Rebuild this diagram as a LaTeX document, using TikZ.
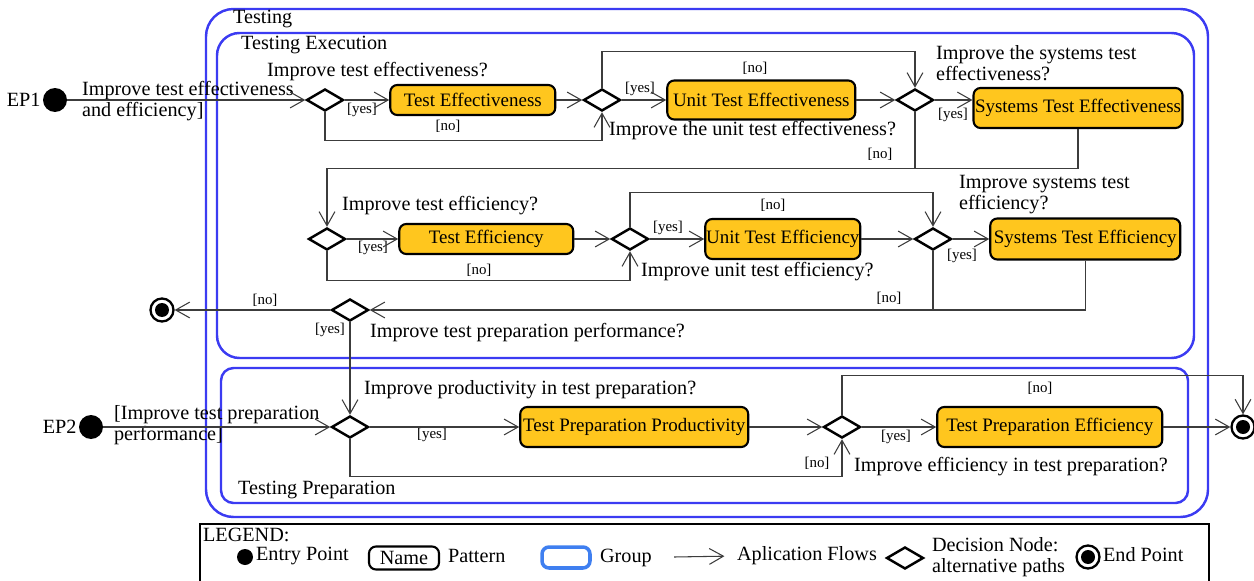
\documentclass[tikz,border=0pt]{standalone}
\usepackage{fontspec}
\setmainfont{Liberation Serif}
\usepackage{xcolor}
\usepackage{tikz}
\usetikzlibrary{positioning, arrows.meta, shapes.geometric}
\definecolor{grpblue}{HTML}{3B3BF2}
\definecolor{legblue}{HTML}{3F7FF0}
\definecolor{patgold}{HTML}{FFC61E}
\definecolor{flowgray}{HTML}{3C3C3C}

\begin{document}
\begin{tikzpicture}[
  x=0.02cm, y=-0.02cm,
  txt/.style={inner sep=1pt, font=\fontsize{11.5}{12}\selectfont, align=left},
  lbl/.style={inner sep=0pt, font=\fontsize{8.5}{9}\selectfont},
  patbox/.style={
    rectangle, rounded corners=4pt, draw=black, line width=1.2pt, fill=patgold,
    minimum height=0.8cm, inner sep=0.5pt,
    font=\fontsize{10.8}{12}\selectfont, align=center
  },
  decision/.style={
    diamond, draw=black, line width=1.4pt, fill=white,
    minimum width=0.74cm, minimum height=0.44cm, inner sep=0pt
  },
  entry/.style={circle, fill=black, minimum size=0.48cm, inner sep=0pt},
  endpt/.style={
    circle, draw=black, line width=1.3pt, fill=white,
    minimum size=0.46cm, inner sep=0pt,
    path picture={\fill[black] (path picture bounding box.center) circle (0.14cm);}
  },
  grp/.style={draw=grpblue, line width=1.4pt},
  arr/.style={-{Straight Barb[length=8pt,width=9pt]}, line width=0.6pt, color=flowgray},
  flow/.style={line width=0.6pt, color=flowgray},
]
\useasboundingbox (0,0) rectangle (1254,581);

% Groups
\draw[grp, rounded corners=0.55cm] (206,9) rectangle (1208,517);
\draw[grp, rounded corners=0.45cm] (217,33) rectangle (1194,358);
\draw[grp, rounded corners=0.25cm] (221,368) rectangle (1188,503);
\node[txt, anchor=west] (gtest) at (231,19) {Testing};
\node[txt, anchor=west] (gexec) at (239,45) {Testing Execution};
\node[txt, anchor=west] (gprep) at (236,490) {Testing Preparation};

% Testing execution: effectiveness
\node[entry] (ep1) at (55,100) {};
\node[txt, left=0pt of ep1] (ep1t) {EP1};
\node[txt, anchor=west] (ep1q) at (80,101) {Improve test effectiveness\\and efficiency]};
\node[decision] (d1) at (325,100) {};
\node[txt, anchor=west] (q1) at (265,72) {Improve test effectiveness?};
\node[patbox, right=0.89cm of d1, minimum width=3.3cm, minimum height=0.6cm] (teff) {Test Effectiveness};
\node[decision] (d2) at (602,100) {};
\node[patbox, right=0.89cm of d2, minimum width=3.76cm, minimum height=0.78cm] (uteff) {Unit Test Effectiveness};
\node[txt, anchor=west] (q2) at (607,131) {Improve the unit test effectiveness?};
\node[decision] (d3) at (915,100) {};
\node[txt, anchor=west] (q3) at (934,63) {Improve the systems test\\effectiveness?};
\node[patbox, minimum width=4.18cm, minimum height=0.8cm] (steff) at (1078,108) {Systems Test Effectiveness};

% Testing execution: efficiency
\node[decision] (d4) at (327,239) {};
\node[txt, anchor=west] (q4) at (340,206) {Improve test efficiency?};
\node[patbox, right=1.03cm of d4, minimum width=3.48cm, minimum height=0.6cm] (teffi) {Test Efficiency};
\node[decision] (d5) at (630,239) {};
\node[patbox, right=1.09cm of d5, minimum width=3.1cm, minimum height=0.8cm] (uteffi) {Unit Test Efficiency};
\node[txt, anchor=west] (q5) at (639,272) {Improve unit test efficiency?};
\node[decision] (d6) at (933,239) {};
\node[txt, anchor=west] (q6) at (957,195) {Improve systems test\\efficiency?};
\node[patbox, right=0.73cm of d6, minimum width=3.8cm, minimum height=0.82cm] (steffi) {Systems Test Efficiency};
\node[decision] (d7) at (350,310) {};
\node[endpt] (e1) at (162,310) {};
\node[txt, anchor=west] (q7) at (368,333) {Improve test preparation performance?};

% Testing preparation
\node[entry] (ep2) at (91,427) {};
\node[txt, left=0pt of ep2] (ep2t) {EP2};
\node[txt, anchor=west] (ep2q) at (112,425) {[Improve test preparation\\performance]};
\node[decision] (d8) at (350,427) {};
\node[txt, anchor=west] (q8) at (362,390) {Improve productivity in test preparation?};
\node[patbox, right=2.99cm of d8, minimum width=4.56cm, minimum height=0.8cm] (tprod) {Test Preparation Productivity};
\node[decision] (d9) at (842,427) {};
\node[patbox, right=1.49cm of d9, minimum width=4.5cm, minimum height=0.8cm] (tpeff) {Test Preparation Efficiency};
\node[txt, anchor=west] (q9) at (852,467) {Improve efficiency in test preparation?};
\node[endpt] (e2) at (1243,427) {};

% Guards
\node[lbl] (y1) at (362,110) {[yes]};
\node[lbl] (n1) at (448,126) {[no]};
\node[lbl] (y2) at (640,89) {[yes]};
\node[lbl] (n2) at (755,68) {[no]};
\node[lbl] (y3) at (953,115) {[yes]};
\node[lbl] (n3) at (880,154) {[no]};
\node[lbl] (y4) at (373,248) {[yes]};
\node[lbl] (n4) at (479,270) {[no]};
\node[lbl] (y5) at (668,228) {[yes]};
\node[lbl] (n5) at (773,205) {[no]};
\node[lbl] (y6) at (962,256) {[yes]};
\node[lbl] (n6) at (889,298) {[no]};
\node[lbl] (n7) at (265,300) {[no]};
\node[lbl] (y7) at (330,330) {[yes]};
\node[lbl] (y8) at (432,435) {[yes]};
\node[lbl] (n8) at (817,463) {[no]};
\node[lbl] (n9) at (1040,388) {[no]};
\node[lbl] (y9) at (896,437) {[yes]};

% Flows, effectiveness
\draw[arr] (ep1) -- (d1.west);
\draw[arr] (d1.east) -- (teff.west);
\draw[arr] (d1.south) -- ++(0,28) -| (d2.south);
\draw[arr] (teff.east) -- (d2.west);
\draw[arr] (d2.north) -- ++(0,-36) -| (d3.north);
\draw[arr] (d2.east) -- (uteff.west);
\draw[arr] (uteff.east) -- (d3.west);
\draw[arr] (d3.east) -- (d3.east -| steff.west);
\draw[arr] (steff.south) -- ++(0,39) -| (d4.north);
\draw[flow] (d3.south) -- ++(0,56);

% Flows, efficiency
\draw[arr] (d4.east) -- (teffi.west);
\draw[arr] (d4.south) -- ++(0,29) -| (d5.south);
\draw[arr] (teffi.east) -- (d5.west);
\draw[arr] (d5.north) -- ++(0,-34) -| (d6.north);
\draw[arr] (d5.east) -- (uteffi.west);
\draw[arr] (uteffi.east) -- (d6.west);
\draw[arr] (d6.east) -- (steffi.west);
\draw[arr] (steffi.south) |- (d7.east);
\draw[flow] (d6.south) -- ++(0,60);
\draw[arr] (d7.west) -- (e1);
\draw[arr] (d7.south) -- (d8.north);

% Flows, preparation
\draw[arr] (ep2) -- (d8.west);
\draw[arr] (d8.east) -- (tprod.west);
\draw[arr] (d8.south) -- ++(0,37) -| (d9.south);
\draw[arr] (tprod.east) -- (d9.west);
\draw[arr] (d9.north) -- ++(0,-39) -| (e2.north);
\draw[arr] (d9.east) -- (tpeff.west);
\draw[arr] (tpeff.east) -- (e2.west);

% Legend
\draw[line width=1.2pt] (200,524) rectangle (1209,600);
\node[txt, anchor=west] (legtitle) at (201,535) {LEGEND:};
\node[entry, minimum size=0.32cm] (legentry) at (245,557) {};
\node[txt, anchor=west] (legentryt) at (254,556) {Entry Point};
\node[draw=black, rounded corners=4pt, line width=1.2pt, minimum width=1.4cm,
  minimum height=0.46cm, inner sep=1pt, font=\fontsize{11.5}{12}\selectfont] (legname) at (404,558) {Name};
\node[txt, anchor=west] (legnamet) at (446,556) {Pattern};
\node[draw=legblue, rounded corners=4pt, line width=2pt, minimum width=0.96cm,
  minimum height=0.42cm] (leggrp) at (566,557.5) {};
\node[txt, anchor=west] (leggrpt) at (598,558) {Group};
\coordinate (legflow) at (674,557);
\node[txt, anchor=west] (legflowt) at (735,556) {Aplication Flows};
\draw[arr, shorten >=6pt] (legflow) -- (legflowt.west);
\node[decision] (legdec) at (905,558) {};
\node[txt, anchor=west] (legdect) at (930,557) {Decision Node:\\alternative paths};
\node[endpt] (legendpt) at (1088,557) {};
\node[txt, anchor=west] (legendptt) at (1101,555) {End Point};

\end{tikzpicture}
\end{document}
